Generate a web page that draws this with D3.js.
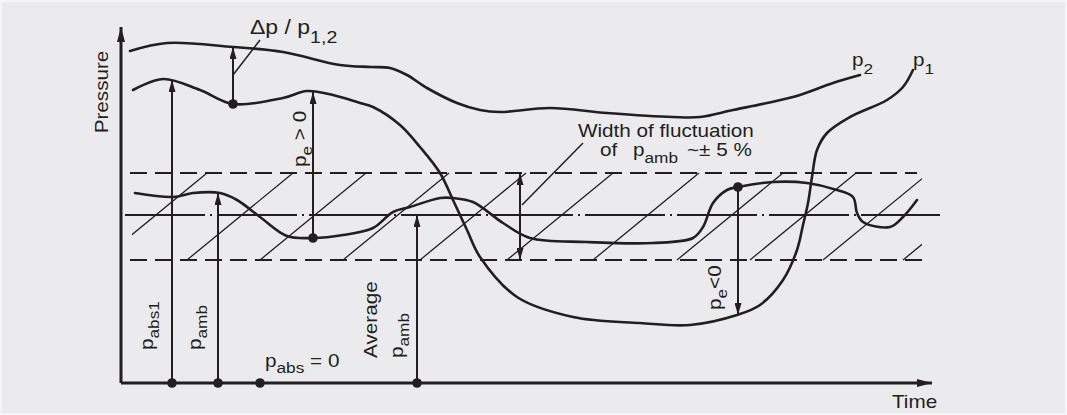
<!DOCTYPE html>
<html>
<head>
<meta charset="utf-8">
<script src="https://cdn.jsdelivr.net/npm/d3@7"></script>
<style>
  body { margin: 0; background: #f6f6f7; }
</style>
</head>
<body>
<script>
// Curves as [time, pressure] pairs (arbitrary units)
const p2Points = [[9,332],[46,340],[112,336],[162,331],[219,318],[250,316],[269,315],[286,308],
  [306,295],[336,280],[359,273],[379,271],[429,275],[486,270],[552,266],[579,266],[612,273],
  [646,280],[679,288],[712,300],[739,308]];
const p1Points = [[12,293],[42,304],[79,293],[112,279],[162,285],[186,292],[212,288],[239,280],
  [252,276],[279,258],[299,236],[319,210],[332,183],[346,153],[359,126],[396,86],[452,66],
  [519,60],[569,58],[616,68],[639,78],[662,103],[676,133],[682,158],[687,180],[691,206],
  [696,233],[706,250],[729,266],[766,283],[782,296],[792,313]];
const ambPoints = [[14,190],[52,186],[72,190],[99,190],[116,183],[139,166],[166,147],[192,145],
  [222,148],[252,155],[272,171],[289,176],[319,185],[332,185],[352,181],[382,160],[409,145],
  [466,141],[532,140],[572,145],[582,156],[592,180],[606,193],[617,196],[652,201],[686,200],
  [716,193],[732,186],[736,170],[742,161],[769,156],[782,166],[796,183]];

// fluctuation band of p_amb and its average
const bandLow = 123, bandHigh = 210, ambAverage = 168;
const hatchStarts = [-20, 66, 139, 222, 299, 386, 472, 556, 629, 702, 782];
const hatchRun = 106;

// vertical arrows: time, from, to, heads
const arrows = [
  { t: 51,  from: 0,   to: 303, both: false },  // p_abs1
  { t: 97,  from: 0,   to: 190, both: false },  // p_amb
  { t: 112, from: 279, to: 336, both: false },  // delta p
  { t: 192, from: 145, to: 291, both: false },  // p_e > 0
  { t: 296, from: 0,   to: ambAverage, both: false }, // average p_amb
  { t: 399, from: bandLow, to: bandHigh, both: true }, // width of fluctuation
  { t: 617, from: 196, to: 68,  both: false }   // p_e < 0
];
const dots = [[51,0],[97,0],[139,0],[296,0],[112,279],[192,145],[617,196]];
const leaders = [[[112,308],[139,343]], [[401,178],[462,240]]];

const width = 1067, height = 415;
const ink = "#231f20";
const font = "'Liberation Sans', Arial, Helvetica, sans-serif";

const x = d3.scaleLinear().domain([0, 811]).range([121, 932]);
const y = d3.scaleLinear().domain([0, 356]).range([383, 27]);

const svg = d3.select("body").append("svg")
    .attr("width", width)
    .attr("height", height);

svg.append("rect")
    .attr("x", 2).attr("y", 2)
    .attr("width", width - 4).attr("height", height - 4)
    .attr("fill", "#ebebed");

// arrow heads
const defs = svg.append("defs");
function marker(id, w, l) {
    defs.append("marker")
        .attr("id", id)
        .attr("markerUnits", "userSpaceOnUse")
        .attr("viewBox", `0 ${-w / 2} ${l} ${w}`)
        .attr("refX", l).attr("refY", 0)
        .attr("markerWidth", l).attr("markerHeight", w)
        .attr("orient", "auto-start-reverse")
        .append("path")
        .attr("d", `M0,${-w / 2}L${l},0L0,${w / 2}Z`)
        .attr("fill", ink);
}
marker("head", 7, 12);
marker("axisHead", 8, 15);

svg.append("clipPath").attr("id", "band")
    .append("rect")
    .attr("x", x(11)).attr("y", 0)
    .attr("width", x(801) - x(11)).attr("height", height);

// hatching of the band
svg.append("g")
    .attr("clip-path", "url(#band)")
    .attr("stroke", ink)
    .attr("stroke-width", 1.3)
    .selectAll("line")
    .data(hatchStarts)
    .join("line")
    .attr("x1", d => x(d)).attr("y1", y(bandLow))
    .attr("x2", d => x(d + hatchRun)).attr("y2", y(bandHigh));

// band limits and average line
svg.append("line")
    .attr("x1", x(9)).attr("x2", x(796))
    .attr("y1", y(bandHigh)).attr("y2", y(bandHigh))
    .attr("stroke", ink).attr("stroke-width", 2.2)
    .attr("stroke-dasharray", "17,8");
svg.append("line")
    .attr("x1", x(9)).attr("x2", x(802))
    .attr("y1", y(bandLow)).attr("y2", y(bandLow))
    .attr("stroke", ink).attr("stroke-width", 2.2)
    .attr("stroke-dasharray", "17,8");
svg.append("line")
    .attr("x1", x(4)).attr("x2", x(819))
    .attr("y1", y(ambAverage)).attr("y2", y(ambAverage))
    .attr("stroke", ink).attr("stroke-width", 1.8)
    .attr("stroke-dasharray", "80,5,2,5");

// pressure curves
const line = d3.line()
    .x(d => x(d[0]))
    .y(d => y(d[1]))
    .curve(d3.curveCatmullRom.alpha(0.5));

svg.append("g")
    .attr("fill", "none")
    .attr("stroke", ink)
    .attr("stroke-width", 2.6)
    .attr("stroke-linecap", "round")
    .selectAll("path")
    .data([p2Points, p1Points, ambPoints])
    .join("path")
    .attr("d", line);

// axes
svg.append("line")
    .attr("x1", x(0)).attr("y1", y(0))
    .attr("x2", x(0)).attr("y2", y(356))
    .attr("stroke", ink).attr("stroke-width", 3)
    .attr("marker-end", "url(#axisHead)");
svg.append("line")
    .attr("x1", x(0)).attr("y1", y(0))
    .attr("x2", x(811)).attr("y2", y(0))
    .attr("stroke", ink).attr("stroke-width", 3)
    .attr("marker-end", "url(#axisHead)");

// arrows
svg.append("g")
    .attr("stroke", ink)
    .attr("stroke-width", 2)
    .selectAll("line")
    .data(arrows)
    .join("line")
    .attr("x1", d => x(d.t)).attr("y1", d => y(d.from))
    .attr("x2", d => x(d.t)).attr("y2", d => y(d.to))
    .attr("marker-end", "url(#head)")
    .attr("marker-start", d => d.both ? "url(#head)" : null);

svg.append("g")
    .attr("stroke", ink)
    .attr("stroke-width", 1.5)
    .selectAll("line")
    .data(leaders)
    .join("line")
    .attr("x1", d => x(d[0][0])).attr("y1", d => y(d[0][1]))
    .attr("x2", d => x(d[1][0])).attr("y2", d => y(d[1][1]));

svg.append("g")
    .attr("fill", ink)
    .selectAll("circle")
    .data(dots)
    .join("circle")
    .attr("cx", d => x(d[0]))
    .attr("cy", d => y(d[1]))
    .attr("r", 4.8);

// labels, parts are [text, subscript shift]
function label(px, py, rot, parts, anchor, size) {
    size = size || 18;
    const t = svg.append("text")
        .attr("transform", `translate(${px},${py}) rotate(${rot}) scale(1.15,1)`)
        .attr("font-family", font)
        .attr("font-size", size)
        .attr("text-anchor", anchor || "start")
        .attr("fill", ink);
    let shift = 0;
    parts.forEach(([s, sub]) => {
        sub = sub || 0;
        t.append("tspan")
            .attr("dy", sub - shift)
            .attr("font-size", sub ? size - 3 : size)
            .text(s);
        shift = sub;
    });
    return t;
}

label(108, 92, -90, [["Pressure"]], "middle");
label(250, 34, 0, [["\u0394p / p"], ["1,2", 9]], "start", 20);
label(852, 66, 0, [["p"], ["2", 8]]);
label(913, 66, 0, [["p"], ["1", 8]]);
label(578, 137, 0, [["Width of fluctuation"]]);
label(600, 156, 0, [["of"]]);
label(633, 156, 0, [["p"], ["amb", 7]]);
label(687, 156, 0, [["~\u00b1 5 %"]]);
label(265, 367, 0, [["p"], ["abs", 6], [" = 0", 0]]);
label(153, 350, -90, [["p"], ["abs1", 6]]);
label(201, 350, -90, [["p"], ["amb", 6]]);
label(306, 167, -90, [["p"], ["e", 6], [" > 0", 0]]);
label(377, 358, -90, [["Average"]]);
label(403, 358, -90, [["p"], ["amb", 6]]);
label(721, 310, -90, [["p"], ["e", 6], ["<0", 0]]);
label(892, 408, 0, [["Time"]]);
</script>
</body>
</html>
